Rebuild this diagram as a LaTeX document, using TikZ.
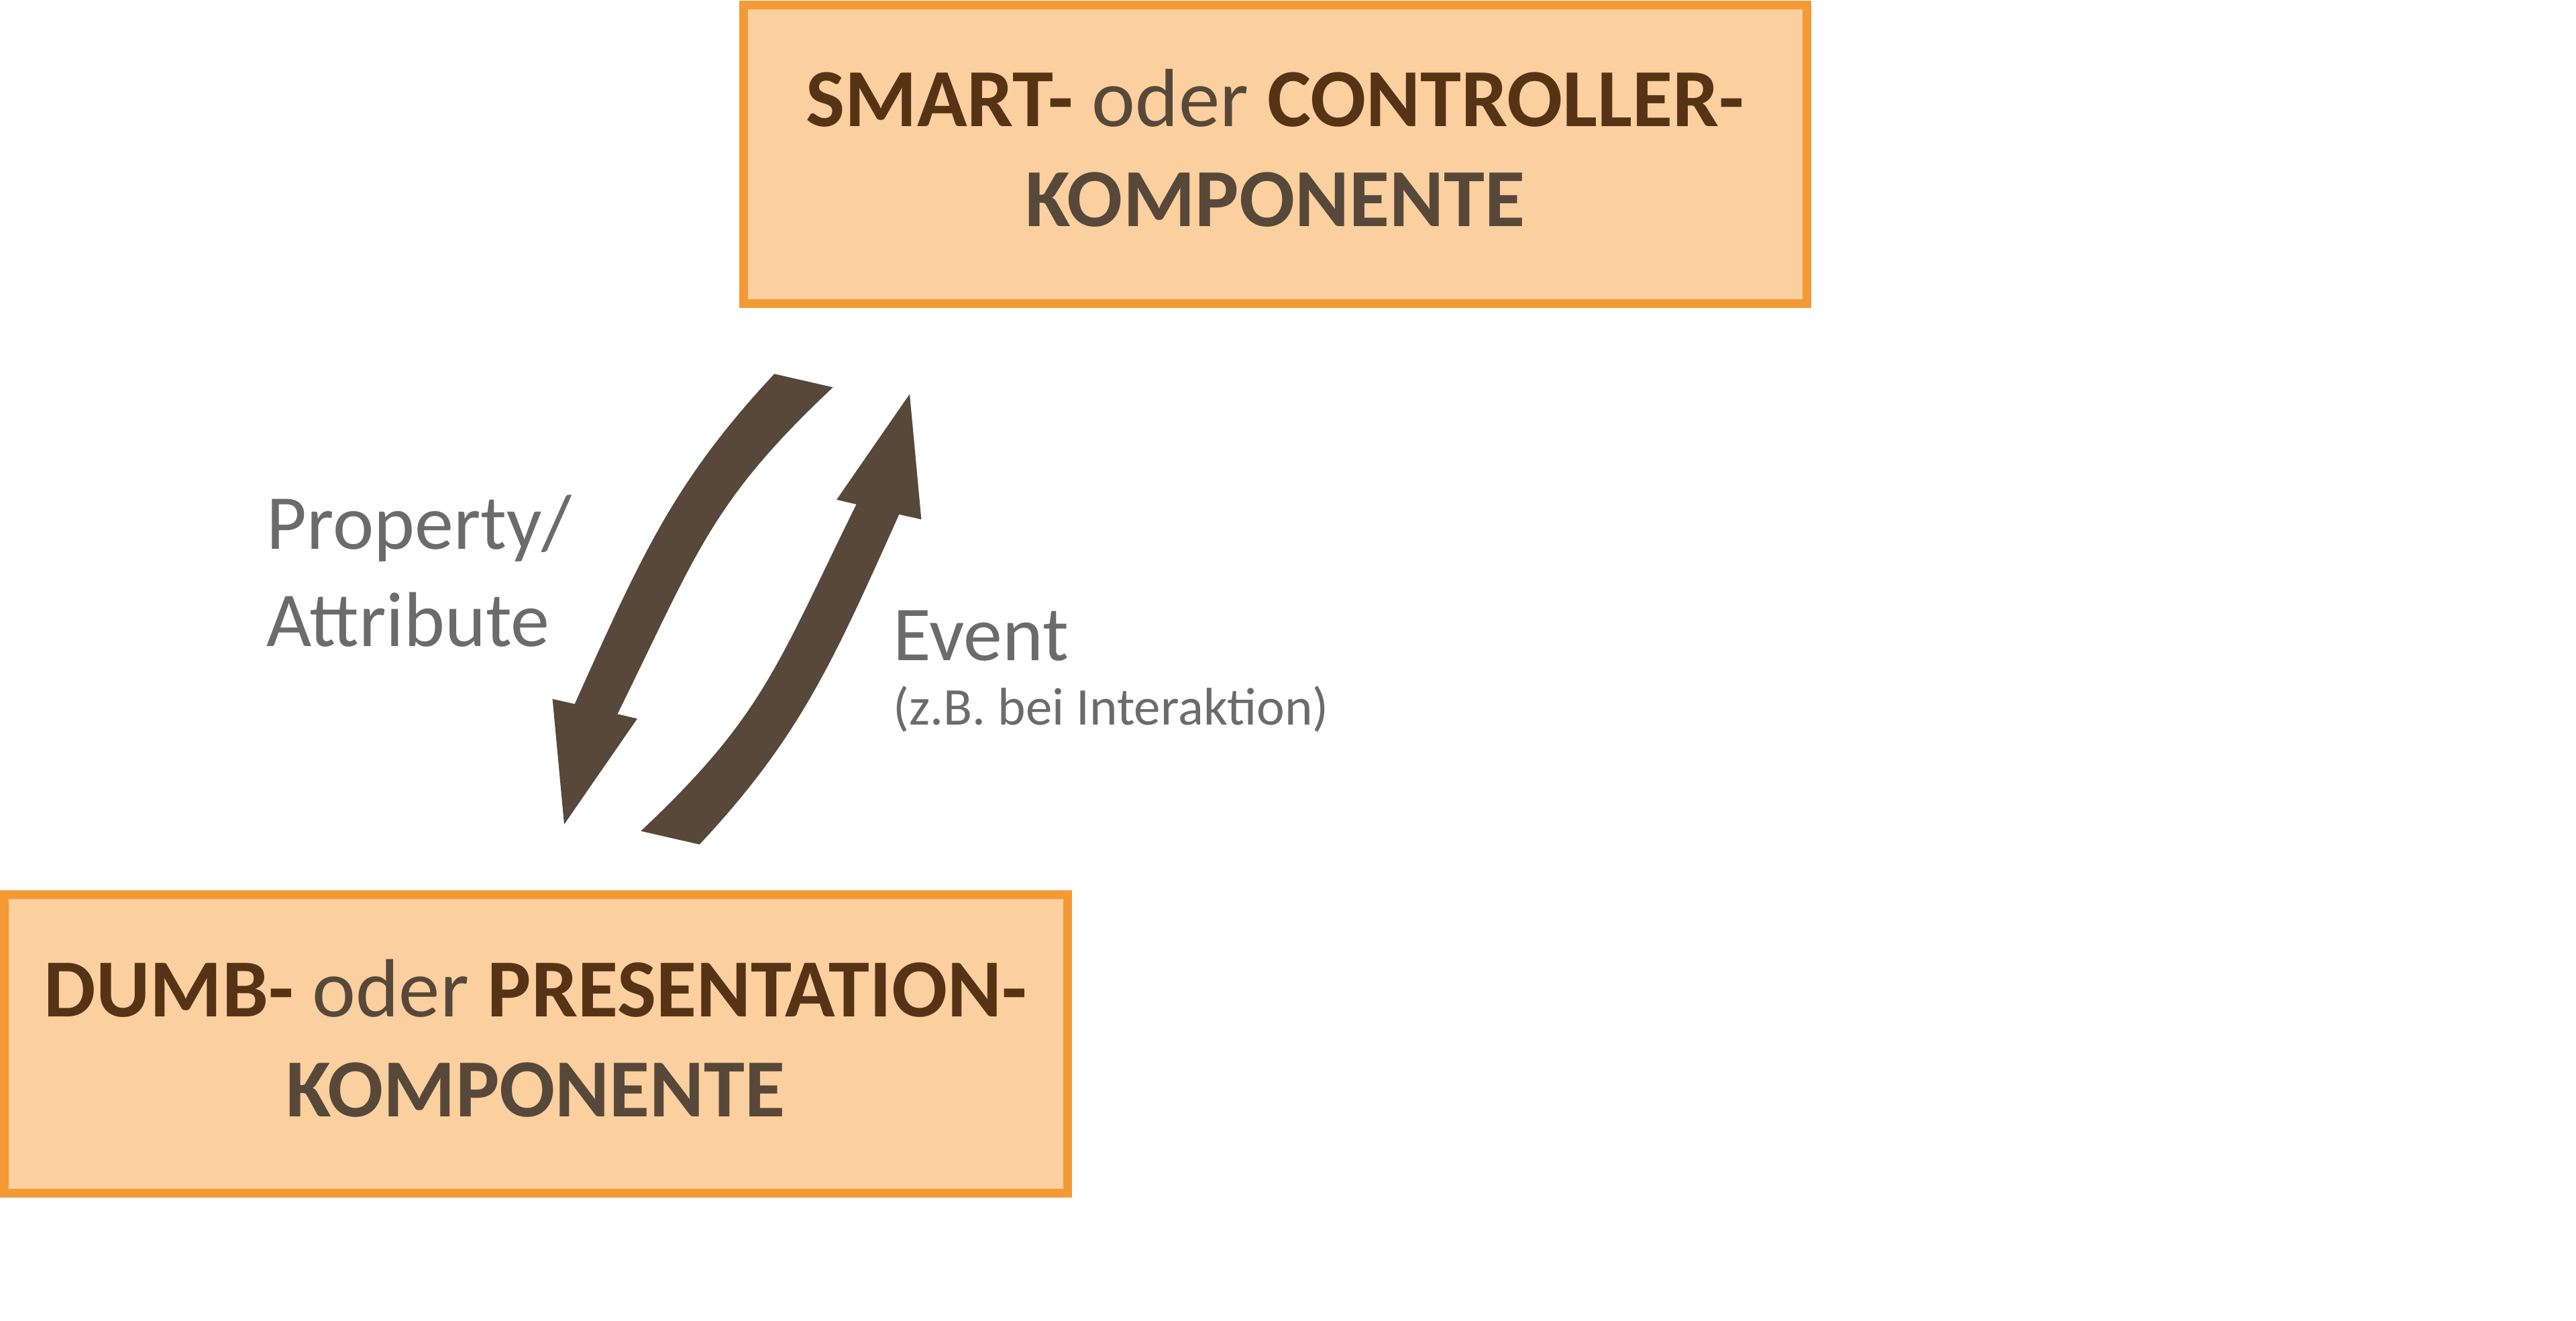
\documentclass[tikz,border=0pt]{standalone}
\usepackage{fontspec}
\setmainfont{Carlito}
\usetikzlibrary{positioning}

\definecolor{boxfill}{HTML}{FBCF9E}
\definecolor{boxline}{HTML}{F39A35}
\definecolor{keybrown}{HTML}{573316}
\definecolor{darkgb}{HTML}{574839}
\definecolor{lblgray}{HTML}{6B6B6B}

\newcommand{\kwd}[1]{\textbf{\textcolor{keybrown}{#1}}}

\begin{document}
\begin{tikzpicture}[
  comp/.style = {draw=boxline, fill=boxfill, line width=3.7pt, inner sep=0pt,
                 minimum width=15.85cm, minimum height=4.45cm, align=center,
                 text=darkgb, text depth=5.1pt,
                 font=\fontsize{35}{42.4}\selectfont},
  flow/.style = {fill=darkgb},
  lbl/.style  = {text=lblgray, inner sep=0pt, align=left,
                 font=\fontsize{33}{41}\selectfont},
  slbl/.style = {text=lblgray, inner sep=0pt, font=\fontsize{22.5}{27}\selectfont},
]
\useasboundingbox (0,0) rectangle (38.4,-19.68);

%% the two components
\node[comp] (smart) at (19.01,-2.295)
  {\kwd{SMART-} oder \kwd{CONTROLLER-}\\ \textbf{KOMPONENTE}};
\node[comp] (dumb) at (7.985,-15.56)
  {\kwd{DUMB-} oder \kwd{PRESENTATION-}\\ \textbf{KOMPONENTE}};

%% curved arrows, the second one is the first turned by 180 degrees
\coordinate (mid) at (10.985,-9.08);
\foreach \a in {0,180}
  \fill[flow, rotate around={\a:(mid)}]
    (11.543,-5.573) .. controls (10.040,-7.179) and (9.551,-8.304) .. (8.567,-10.493)
    -- (8.236,-10.418) -- (8.410,-12.287) -- (9.499,-10.712) -- (9.205,-10.643)
    .. controls (10.398,-8.221) and (10.597,-7.486) .. (12.417,-5.773) -- cycle;

%% labels
\node[lbl, anchor=base west] (prop) at (3.97,-9.63) {Property/\\Attribute};
\node[lbl, anchor=base west] (event) at (13.31,-9.84) {Event};
\node[slbl, anchor=base west] (hint) at (13.31,-10.80) {(z.B. bei Interaktion)};

\end{tikzpicture}
\end{document}
